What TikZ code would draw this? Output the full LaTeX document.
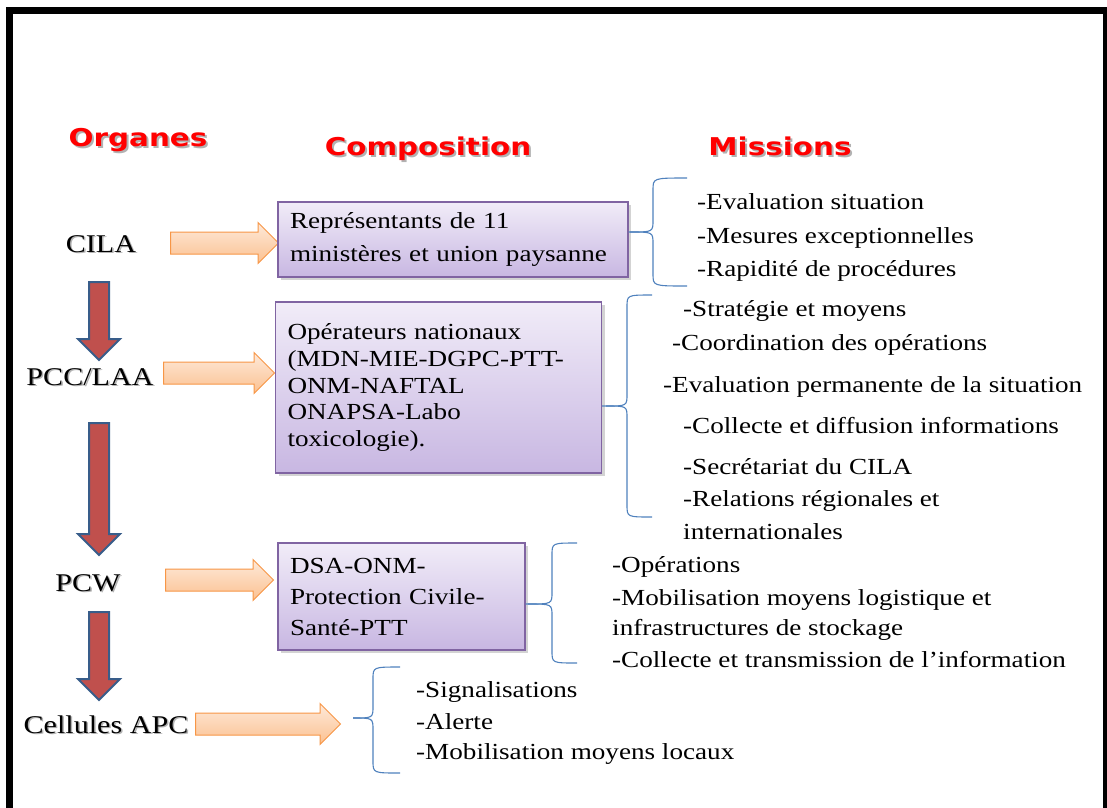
\documentclass[tikz,border=0pt]{standalone}
\usepackage{fontspec}
\setmainfont[FakeStretch=1.18]{Liberation Serif}
\newfontfamily\headfont[FakeStretch=1.2]{DejaVu Sans}
\usetikzlibrary{shapes.arrows,shadows}
\newcommand\txtshadow[2][2pt]{\makebox[0pt][l]{\hspace*{#1}\raisebox{-#1}{\textcolor{black!30}{#2}}}#2}

\begin{document}
\begin{tikzpicture}[x=1pt,y=-1pt,
  titre/.style={anchor=base,text=myred,font=\headfont\bfseries\fontsize{24.5}{28}\selectfont},
  organe/.style={anchor=base,font=\fontsize{25.5}{30}\selectfont},
  mission/.style={anchor=base west,inner sep=0pt,font=\fontsize{23}{28}\selectfont},
  compo/.style={draw=myviolet,line width=1.2pt,top color=mylilac,bottom color=mymauve,
    drop shadow={shadow xshift=3pt,shadow yshift=-3pt,opacity=0.35},
    align=left,inner xsep=12pt,inner ysep=0pt},
  fleche/.style={single arrow,draw=myorange,line width=1pt,top color=mypeach,bottom color=myapricot,
    minimum width=40pt,single arrow head extend=9.5pt,inner xsep=0pt,inner ysep=10.5pt},
  descente/.style={single arrow,draw=mynavy,line width=2pt,fill=mybrick,
    minimum width=40pt,single arrow head extend=11pt,inner xsep=0pt,inner ysep=9pt,rotate=-90},
  accolade/.style={draw=mybrace,line width=1.1pt}]

\definecolor{myred}{rgb}{1.0,0.0,0.0}
\definecolor{mynavy}{RGB}{56,93,138}
\definecolor{mybrick}{RGB}{192,80,77}
\definecolor{myorange}{RGB}{247,150,70}
\definecolor{mypeach}{RGB}{254,234,218}
\definecolor{myapricot}{RGB}{251,192,144}
\definecolor{myviolet}{RGB}{128,100,162}
\definecolor{mylilac}{RGB}{241,236,248}
\definecolor{mymauve}{RGB}{200,183,226}
\definecolor{mybrace}{RGB}{79,129,189}

\useasboundingbox (0,0) rectangle (1107,807);
\clip (0,0) rectangle (1107,807);

% cadre
\draw[line width=7pt] (9,830) -- (9,10.5) -- (1106,10.5) -- (1106,830);

% titres
\draw (138,146) node[titre] (organes) {\txtshadow{Organes}};
\draw (428,155) node[titre] (composition) {\txtshadow{Composition}};
\draw (780,155) node[titre] (missions) {\txtshadow{Missions}};

% organes
\draw (101,252) node[organe] (cila) {\txtshadow[1.5pt]{CILA}};
\draw (90,385) node[organe] (pcc) {\txtshadow[1.5pt]{PCC/LAA}};
\draw (88,591) node[organe] (pcw) {\txtshadow[1.5pt]{PCW}};
\draw (106,733) node[organe] (apc) {\txtshadow[1.5pt]{Cellules APC}};

\draw (99,316) node[descente,minimum height=78pt] (d1) {};
\draw (99,484) node[descente,minimum height=132pt] (d2) {};
\draw (99,651) node[descente,minimum height=88pt] (d3) {};

\draw (219,243) node[fleche,minimum height=108pt] (f1) {};
\draw (213.5,373) node[fleche,minimum height=111pt] (f2) {};
\draw (214,580) node[fleche,minimum height=108pt] (f3) {};
\draw (262.5,724) node[fleche,minimum height=145pt] (f4) {};

% composition
\draw (453,239.5) node[compo,text width=326pt,minimum height=75pt,font=\fontsize{23}{33}\selectfont] (b1)
  {Représentants de 11\\ministères et union paysanne};
\draw (438.5,387.5) node[compo,text width=302pt,minimum height=171pt,font=\fontsize{23}{26.7}\selectfont] (b2)
  {Opérateurs nationaux\\(MDN-MIE-DGPC-PTT-\\ONM-NAFTAL\\ONAPSA-Labo\\toxicologie).};
\draw (401.5,596.5) node[compo,text width=223pt,minimum height=107pt,font=\fontsize{23}{31}\selectfont] (b3)
  {DSA-ONM-\\Protection Civile-\\Santé-PTT};

% accolades
\coordinate (c1) at (630,232);
\draw[accolade] (b1.east |- c1) -- (c1) .. controls (653,232) .. (653,220) -- (653,190) .. controls (653,178) .. (687,178);
\draw[accolade] (c1) .. controls (653,232) .. (653,244) -- (653,274) .. controls (653,286) .. (687,286);
\coordinate (c2) at (606,406);
\draw[accolade] (b2.east |- c2) -- (c2) .. controls (627,406) .. (627,394) -- (627,307) .. controls (627,295) .. (652,295);
\draw[accolade] (c2) .. controls (627,406) .. (627,418) -- (627,505) .. controls (627,517) .. (652,517);
\coordinate (c3) at (528,604);
\draw[accolade] (b3.east |- c3) -- (c3) .. controls (552,604) .. (552,592) -- (552,555) .. controls (552,543) .. (577,543);
\draw[accolade] (c3) .. controls (552,604) .. (552,616) -- (552,651) .. controls (552,663) .. (577,663);
\coordinate (c4) at (353,718);
\draw[accolade] (c4) .. controls (373,718) .. (373,706) -- (373,679) .. controls (373,667) .. (400,667);
\draw[accolade] (c4) .. controls (373,718) .. (373,730) -- (373,761) .. controls (373,773) .. (400,773);

% missions
\draw (697,209) node[mission] (m11) {-Evaluation situation};
\draw (697,243) node[mission] (m12) {-Mesures exceptionnelles};
\draw (697,276) node[mission] (m13) {-Rapidité de procédures};

\draw (683,316) node[mission] (m21) {-Stratégie et moyens};
\draw (672,350) node[mission] (m22) {-Coordination des opérations};
\draw (663,392) node[mission] (m23) {-Evaluation permanente de la situation};
\draw (683,433) node[mission] (m24) {-Collecte et diffusion informations};
\draw (683,474) node[mission] (m25) {-Secrétariat du CILA};
\draw (683,506) node[mission] (m26) {-Relations régionales et};
\draw (683,539) node[mission] (m27) {internationales};

\draw (612,572) node[mission] (m31) {-Opérations};
\draw (612,605) node[mission] (m32) {-Mobilisation moyens logistique et};
\draw (612,635) node[mission] (m33) {infrastructures de stockage};
\draw (612,667) node[mission] (m34) {-Collecte et transmission de l’information};

\draw (416,697) node[mission] (m41) {-Signalisations};
\draw (416,729) node[mission] (m42) {-Alerte};
\draw (416,759) node[mission] (m43) {-Mobilisation moyens locaux};
\end{tikzpicture}
\end{document}
